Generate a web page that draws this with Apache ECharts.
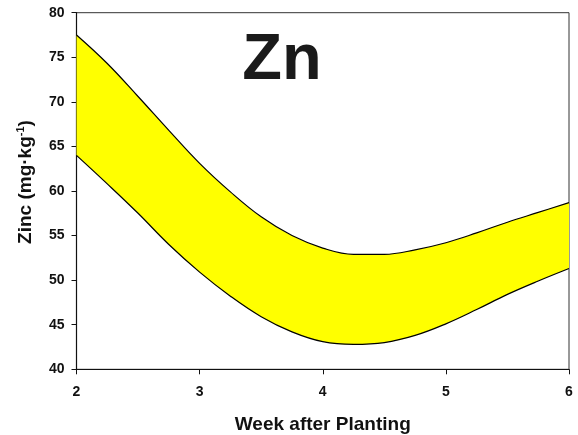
<!DOCTYPE html>
<html>
<head>
<meta charset="utf-8">
<script src="https://cdn.jsdelivr.net/npm/echarts@6/dist/echarts.min.js"></script>
<style>
  html, body { margin: 0; padding: 0; background: #fff; }
  #chart { width: 578px; height: 435px; }
</style>
</head>
<body>
<div id="chart"></div>
<script>
// weeks after planting
const weeks = ['2', '2.25', '2.5', '2.75', '3', '3.25', '3.5', '3.75', '4', '4.25', '4.5', '4.75', '5', '5.25', '5.5', '5.75', '6']
// upper and lower edge of the band (mg/kg)
const upperZn = [77.5, 74.3, 70.6, 66.8, 63.1, 59.9, 57.1, 55.0, 53.6, 52.9, 52.9, 53.4, 54.2, 55.3, 56.5, 57.6, 58.7]
const lowerZn = [64.0, 60.8, 57.5, 54.0, 50.9, 48.2, 45.9, 44.2, 43.1, 42.8, 43.0, 43.8, 45.1, 46.7, 48.4, 49.9, 51.3]

const font = 'Liberation Sans, Arial, sans-serif'

const chart = echarts.init(document.getElementById('chart'))

const option = {
  backgroundColor: '#fff',
  animation: false,
  grid: {
    left: 76.5,
    right: 9,
    top: 12.7,
    bottom: 65.7,
    outerBoundsMode: 'none',
    containLabel: false,
    show: true,
    borderColor: '#333',
    borderWidth: 1
  },
  xAxis: {
    type: 'category',
    data: weeks,
    boundaryGap: false,
    name: 'Week after Planting',
    nameLocation: 'middle',
    nameGap: 46,
    nameTextStyle: { fontFamily: font, fontWeight: 'bold', fontSize: 19, color: '#111' },
    axisLine: { lineStyle: { color: '#111', width: 1.2 } },
    axisTick: { show: true, length: 5, interval: 3, lineStyle: { color: '#111' } },
    axisLabel: { interval: 3, margin: 16, fontFamily: font, fontWeight: 'bold', fontSize: 14, color: '#111' },
    splitLine: { show: false }
  },
  yAxis: {
    type: 'value',
    min: 40,
    max: 80,
    interval: 5,
    axisLine: { show: true, lineStyle: { color: '#111', width: 1.2 } },
    axisTick: { show: true, length: 5, lineStyle: { color: '#111' } },
    axisLabel: { margin: 12, fontFamily: font, fontWeight: 'bold', fontSize: 14, color: '#111' },
    splitLine: { show: false }
  },
  graphic: [
    {
      type: 'text',
      x: 282,
      y: 61,
      style: {
        text: 'Zn',
        font: 'bold 65px ' + font,
        fill: '#1a1a1a',
        textAlign: 'center',
        textVerticalAlign: 'middle'
      }
    },
    {
      type: 'text',
      x: 26,
      y: 182,
      rotation: Math.PI / 2,
      style: {
        text: '{n|Zinc (mg·kg}{s|-1}{n|)}',
        textAlign: 'center',
        textVerticalAlign: 'middle',
        rich: {
          n: { fontFamily: font, fontWeight: 'bold', fontSize: 19, fill: '#111', lineHeight: 22 },
          s: { fontFamily: font, fontWeight: 'bold', fontSize: 11, fill: '#111', verticalAlign: 'top', lineHeight: 22 }
        }
      }
    }
  ],
  series: [
    {
      name: 'lower',
      type: 'line',
      stack: 'band',
      smooth: 0.4,
      symbol: 'none',
      lineStyle: { color: '#000', width: 1.2 },
      data: lowerZn
    },
    {
      name: 'upper',
      type: 'line',
      stack: 'band',
      smooth: 0.4,
      symbol: 'none',
      lineStyle: { color: '#000', width: 1.2 },
      areaStyle: { color: '#ffff00', opacity: 1 },
      data: upperZn.map((v, i) => +(v - lowerZn[i]).toFixed(2))
    }
  ]
}

chart.setOption(option)
</script>
</body>
</html>
